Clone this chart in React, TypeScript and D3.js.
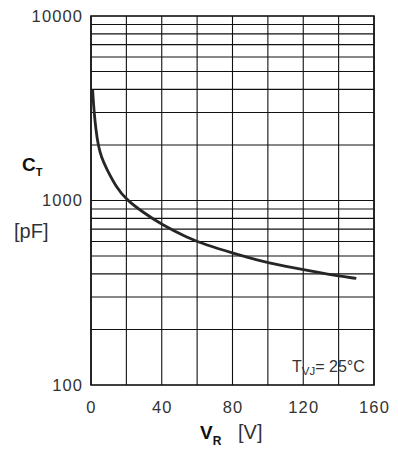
import React from "react";
import * as d3 from "d3";

const voltages = [0.9, 1.7, 2.7, 4, 6, 8.7, 14.3, 20, 30, 40, 54, 65, 80, 97, 116, 128, 139, 150];
const capacitances = [4000, 3050, 2450, 2000, 1700, 1494, 1180, 1010, 855, 740, 632, 574, 520, 466, 429, 408, 391, 378];
const xTicks = [0, 40, 80, 120, 160];
const xGrid = [0, 20, 40, 60, 80, 100, 120, 140, 160];
const yTicks = [100, 1000, 10000];
const yGrid = [200, 300, 400, 500, 600, 700, 800, 900, 1000, 2000, 3000, 4000, 5000, 6000, 7000, 8000, 9000];

const W = 398;
const H = 451;
const left = 91;
const right = 374;
const top = 16;
const bottom = 385;

export default function App() {
  const x = d3.scaleLinear().domain([0, 160]).range([left, right]);
  const y = d3.scaleLog().domain([100, 10000]).range([bottom, top]);
  const pts = voltages.map((v, i) => [v, capacitances[i]] as [number, number]);
  const line = d3
    .line<[number, number]>()
    .x((d) => x(d[0]))
    .y((d) => y(d[1]))
    .curve(d3.curveBasis);
  const font = "'Liberation Sans', Arial, sans-serif";
  return (
    <svg
      width={W}
      height={H}
      style={{ position: "absolute", left: 0, top: 0, background: "#fff" }}
      fontFamily={font}
    >
      <g stroke="#111" strokeWidth={1.1}>
        {xGrid.map((v) => (
          <line key={"x" + v} x1={x(v)} x2={x(v)} y1={top} y2={bottom} />
        ))}
        {yGrid.map((v) => (
          <line key={"y" + v} x1={left} x2={right} y1={y(v)} y2={y(v)} />
        ))}
      </g>
      <rect x={left} y={top} width={right - left} height={bottom - top} fill="none" stroke="#111" strokeWidth={1.6} />
      <path d={line(pts) || ""} fill="none" stroke="#262626" strokeWidth={2.8} strokeLinecap="butt" />
      <g fontSize={16.5} fill="#333" letterSpacing={1.1}>
        {yTicks.map((v) => (
          <text key={"yt" + v} x={83} y={y(v)} dy="0.36em" textAnchor="end">
            {v}
          </text>
        ))}
        {xTicks.map((v) => (
          <text key={"xt" + v} x={x(v) + 0.5} y={413} textAnchor="middle">
            {v}
          </text>
        ))}
      </g>
      <text x={22} y={171} fontSize={19} fontWeight="bold" fill="#111">
        C
        <tspan fontSize={11} dy={5}>T</tspan>
      </text>
      <text x={14} y={238} fontSize={20} fill="#333">[pF]</text>
      <text x={200} y={439} fontSize={19} fontWeight="bold" fill="#111">
        V
        <tspan fontSize={12} dy={6}>R</tspan>
      </text>
      <text x={238} y={439} fontSize={20} fill="#333">[V]</text>
      <text x={292} y={372} fontSize={16} fill="#333">
        T
        <tspan fontSize={11.5} dy={3}>VJ</tspan>
        <tspan dy={-3}>= 25°C</tspan>
      </text>
    </svg>
  );
}
